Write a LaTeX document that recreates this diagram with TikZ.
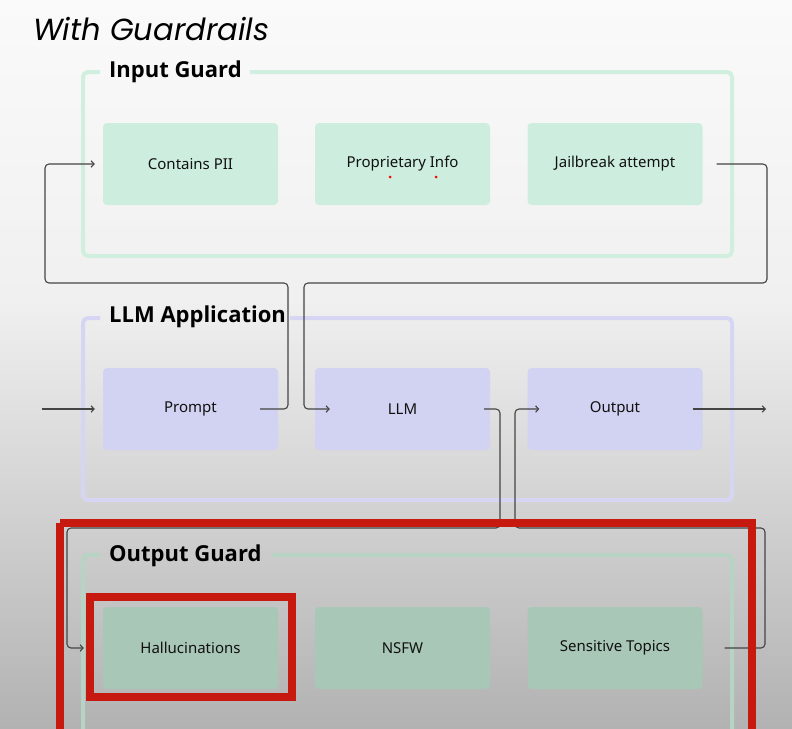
\documentclass[tikz,border=0pt]{standalone}
\usepackage{fontspec}
\setmainfont{Noto Sans}
\newfontfamily\poppins{Poppins}
\newfontfamily\titlesans{Open Sans}
\usetikzlibrary{arrows.meta,calc}
\definecolor{bgA}{HTML}{FAFAFA}
\definecolor{bgB}{HTML}{F0F0F0}
\definecolor{bgC}{HTML}{B2B2B2}
\definecolor{inB}{HTML}{D0EFDF}
\definecolor{inFill}{HTML}{CDEEDF}
\definecolor{llmB}{HTML}{D6D6F4}
\definecolor{llmFill}{HTML}{D2D2F2}
\definecolor{outB}{HTML}{B6D3C4}
\definecolor{outFill}{HTML}{A8C7B7}
\definecolor{txt}{HTML}{111111}
\definecolor{lineC}{HTML}{444444}
\definecolor{annot}{HTML}{C61A10}
\tikzset{
  box/.style={minimum width=175pt, minimum height=82pt, rounded corners=4pt, inner sep=0pt,
    font=\fontsize{15}{18}\selectfont, text=txt},
  grp/.style={line width=4pt, rounded corners=5pt},
  grptitle/.style={font=\titlesans\bfseries\fontsize{22}{26}\selectfont, anchor=west, inner sep=0pt, text=black},
  conn/.style={draw=lineC, line width=1.1pt, rounded corners=4pt},
  arr/.style={conn, -{Straight Barb[length=3pt,width=6.5pt]}},
  redbox/.style={draw=annot, line width=8pt}
}
\begin{document}
\begin{tikzpicture}[x=1pt,y=-1pt]
\useasboundingbox (0,0) rectangle (792,728);
\begin{scope}
\clip (0,0) rectangle (792,728);
% background
\shade[top color=bgA, bottom color=bgB] (0,0) rectangle (792,300.5);
\shade[top color=bgB, bottom color=bgC] (0,300) rectangle (792,728);

% title
\node[anchor=base west, inner sep=0pt, font=\poppins\itshape\fontsize{30.5}{36}\selectfont, text=black] (title) at (33,40) {With Guardrails};

% group titles
\node[grptitle] (ingt) at (109,72) {Input Guard};
\node[grptitle] (llmgt) at (109,317) {LLM Application};
\node[grptitle] (outgt) at (109,556) {Output Guard};

% group borders
\draw[grp, draw=inB] ([xshift=8pt]ingt.east |- 0,72) -- (732,72) -- (732,256) -- (83,256) -- (83,72) -- (100,72);
\draw[grp, draw=llmB] ([xshift=4pt]llmgt.east |- 0,318) -- (732,318) -- (732,500) -- (83,500) -- (83,318) -- (100,318);
\draw[grp, draw=outB] ([xshift=10pt]outgt.east |- 0,555) -- (732,555) -- (732,780) -- (83,780) -- (83,555) -- (100,555);

% boxes
\node[box, fill=inFill] (pii)  at (190.5,164) {Contains PII};
\node[box, fill=inFill] (prop) at (402.5,164) {Proprietary Info};
\node[box, fill=inFill] (jail) at (615,164) {Jailbreak attempt};
\node[box, fill=llmFill] (prompt) at (190.5,409) {Prompt};
\node[box, fill=llmFill] (llm)    at (402.5,409) {LLM};
\node[box, fill=llmFill] (out)    at (615,409) {Output};
\node[box, fill=outFill] (hall) at (190.5,648) {Hallucinations};
\node[box, fill=outFill] (nsfw) at (402.5,648) {NSFW};
\node[box, fill=outFill] (sens) at (615,648) {Sensitive Topics};

% red marks
\fill[red] (390,177) circle (1.5pt);
\fill[red] (436,177) circle (1.5pt);

% connectors
\coordinate (inStart) at (42,409);
\coordinate (outEnd) at (766,409);
\draw[arr] (inStart) -- ([xshift=-8pt]prompt.west);
\draw[arr] ([xshift=-10pt]out.east) -- (outEnd);
\draw[arr] ([xshift=-18pt]prompt.east) -| (288,283) -| (45,164) -- ([xshift=-8pt]pii.west);
\draw[arr] ([xshift=14pt]jail.east) -| (767,283) -| (304,409) -- ([xshift=15pt]llm.west);
\draw[arr] ([xshift=-6pt]llm.east) -| (500,528) -| (67,648) -- ([xshift=-19pt]hall.west);
\draw[arr] ([xshift=22pt]sens.east) -| (765,528) -| (515,409) -- ([xshift=12pt]out.west);

% red annotation rectangles
\draw[redbox] (60,523) -- (752,523) -- (752,790) (60,790) -- (60,523);
\draw[redbox] (90,597) rectangle (292,697);
\end{scope}
\end{tikzpicture}
\end{document}
